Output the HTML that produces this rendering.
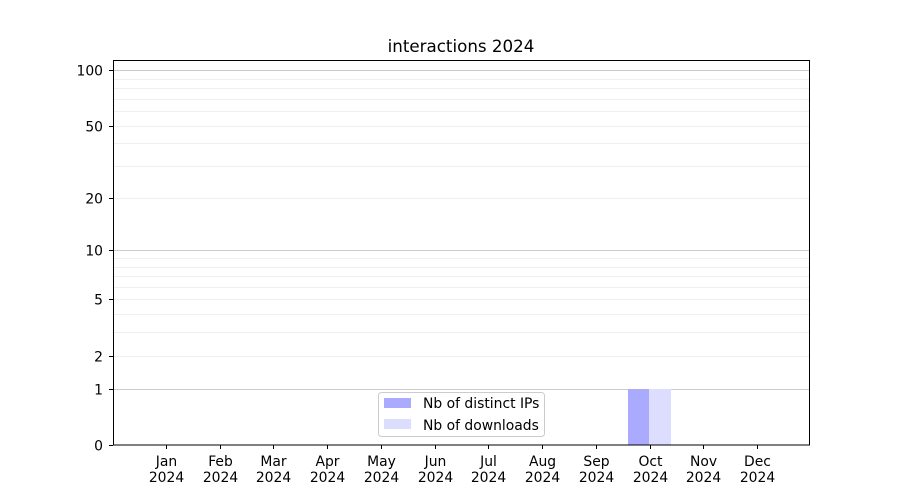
<!DOCTYPE html>
<html><head><meta charset="utf-8"><style>body{margin:0;background:#fff}svg{display:block}text{font-family:"DejaVu Sans","Liberation Sans",sans-serif;font-size:13.9px;fill:#000}</style></head><body>
<svg width="900" height="500" xmlns="http://www.w3.org/2000/svg">
<g id="grid"></g>
<rect x="628" y="389" width="21" height="56" fill="#aaaaff"/>
<rect x="649" y="389" width="22" height="56" fill="#ddddff"/>
<rect x="113.5" y="60.5" width="696" height="384.5" fill="none" stroke="#000" stroke-width="1"/>
<g id="yt"></g><g id="xt"></g>
<text x="461" y="52" text-anchor="middle" style="font-size:16.7px">interactions 2024</text>
<rect x="378.5" y="392.5" width="166" height="44" rx="3" fill="#fff" fill-opacity="0.8" stroke="#ccc"/>
<rect x="384" y="398" width="27" height="10" fill="#aaaaff"/>
<rect x="384" y="419" width="27" height="10" fill="#ddddff"/>
<text x="423" y="408">Nb of distinct IPs</text>
<text x="423" y="430">Nb of downloads</text>
<script>
var ns="http://www.w3.org/2000/svg";
function Y(v){return 445-187*Math.log10(1+v);}
function el(p,t,a,tx){var e=document.createElementNS(ns,t);for(var k in a)e.setAttribute(k,a[k]);if(tx)e.textContent=tx;document.getElementById(p).appendChild(e);}
[2,3,4,5,6,7,8,9,20,30,40,50,60,70,80,90].forEach(function(v){var y=Math.round(Y(v))+0.5;el("grid","line",{x1:114,x2:809,y1:y,y2:y,stroke:"#efefef"});});
[1,10,100].forEach(function(v){var y=Math.round(Y(v))+0.5;el("grid","line",{x1:114,x2:809,y1:y,y2:y,stroke:"#cccccc"});});
[0,1,2,5,10,20,50,100].forEach(function(v){var y=Math.round(Y(v))+0.5;el("yt","line",{x1:109,x2:113,y1:y,y2:y,stroke:"#000"});el("yt","text",{x:103,y:y+5,"text-anchor":"end"},String(v));});
var m=["Jan","Feb","Mar","Apr","May","Jun","Jul","Aug","Sep","Oct","Nov","Dec"];
m.forEach(function(s,i){var x=Math.round(166+i*53.73)+0.5;el("xt","line",{x1:x,x2:x,y1:445,y2:449,stroke:"#000"});el("xt","text",{x:x,y:466,"text-anchor":"middle"},s);el("xt","text",{x:x,y:482,"text-anchor":"middle"},"2024");});
</script>
</svg></body></html>
